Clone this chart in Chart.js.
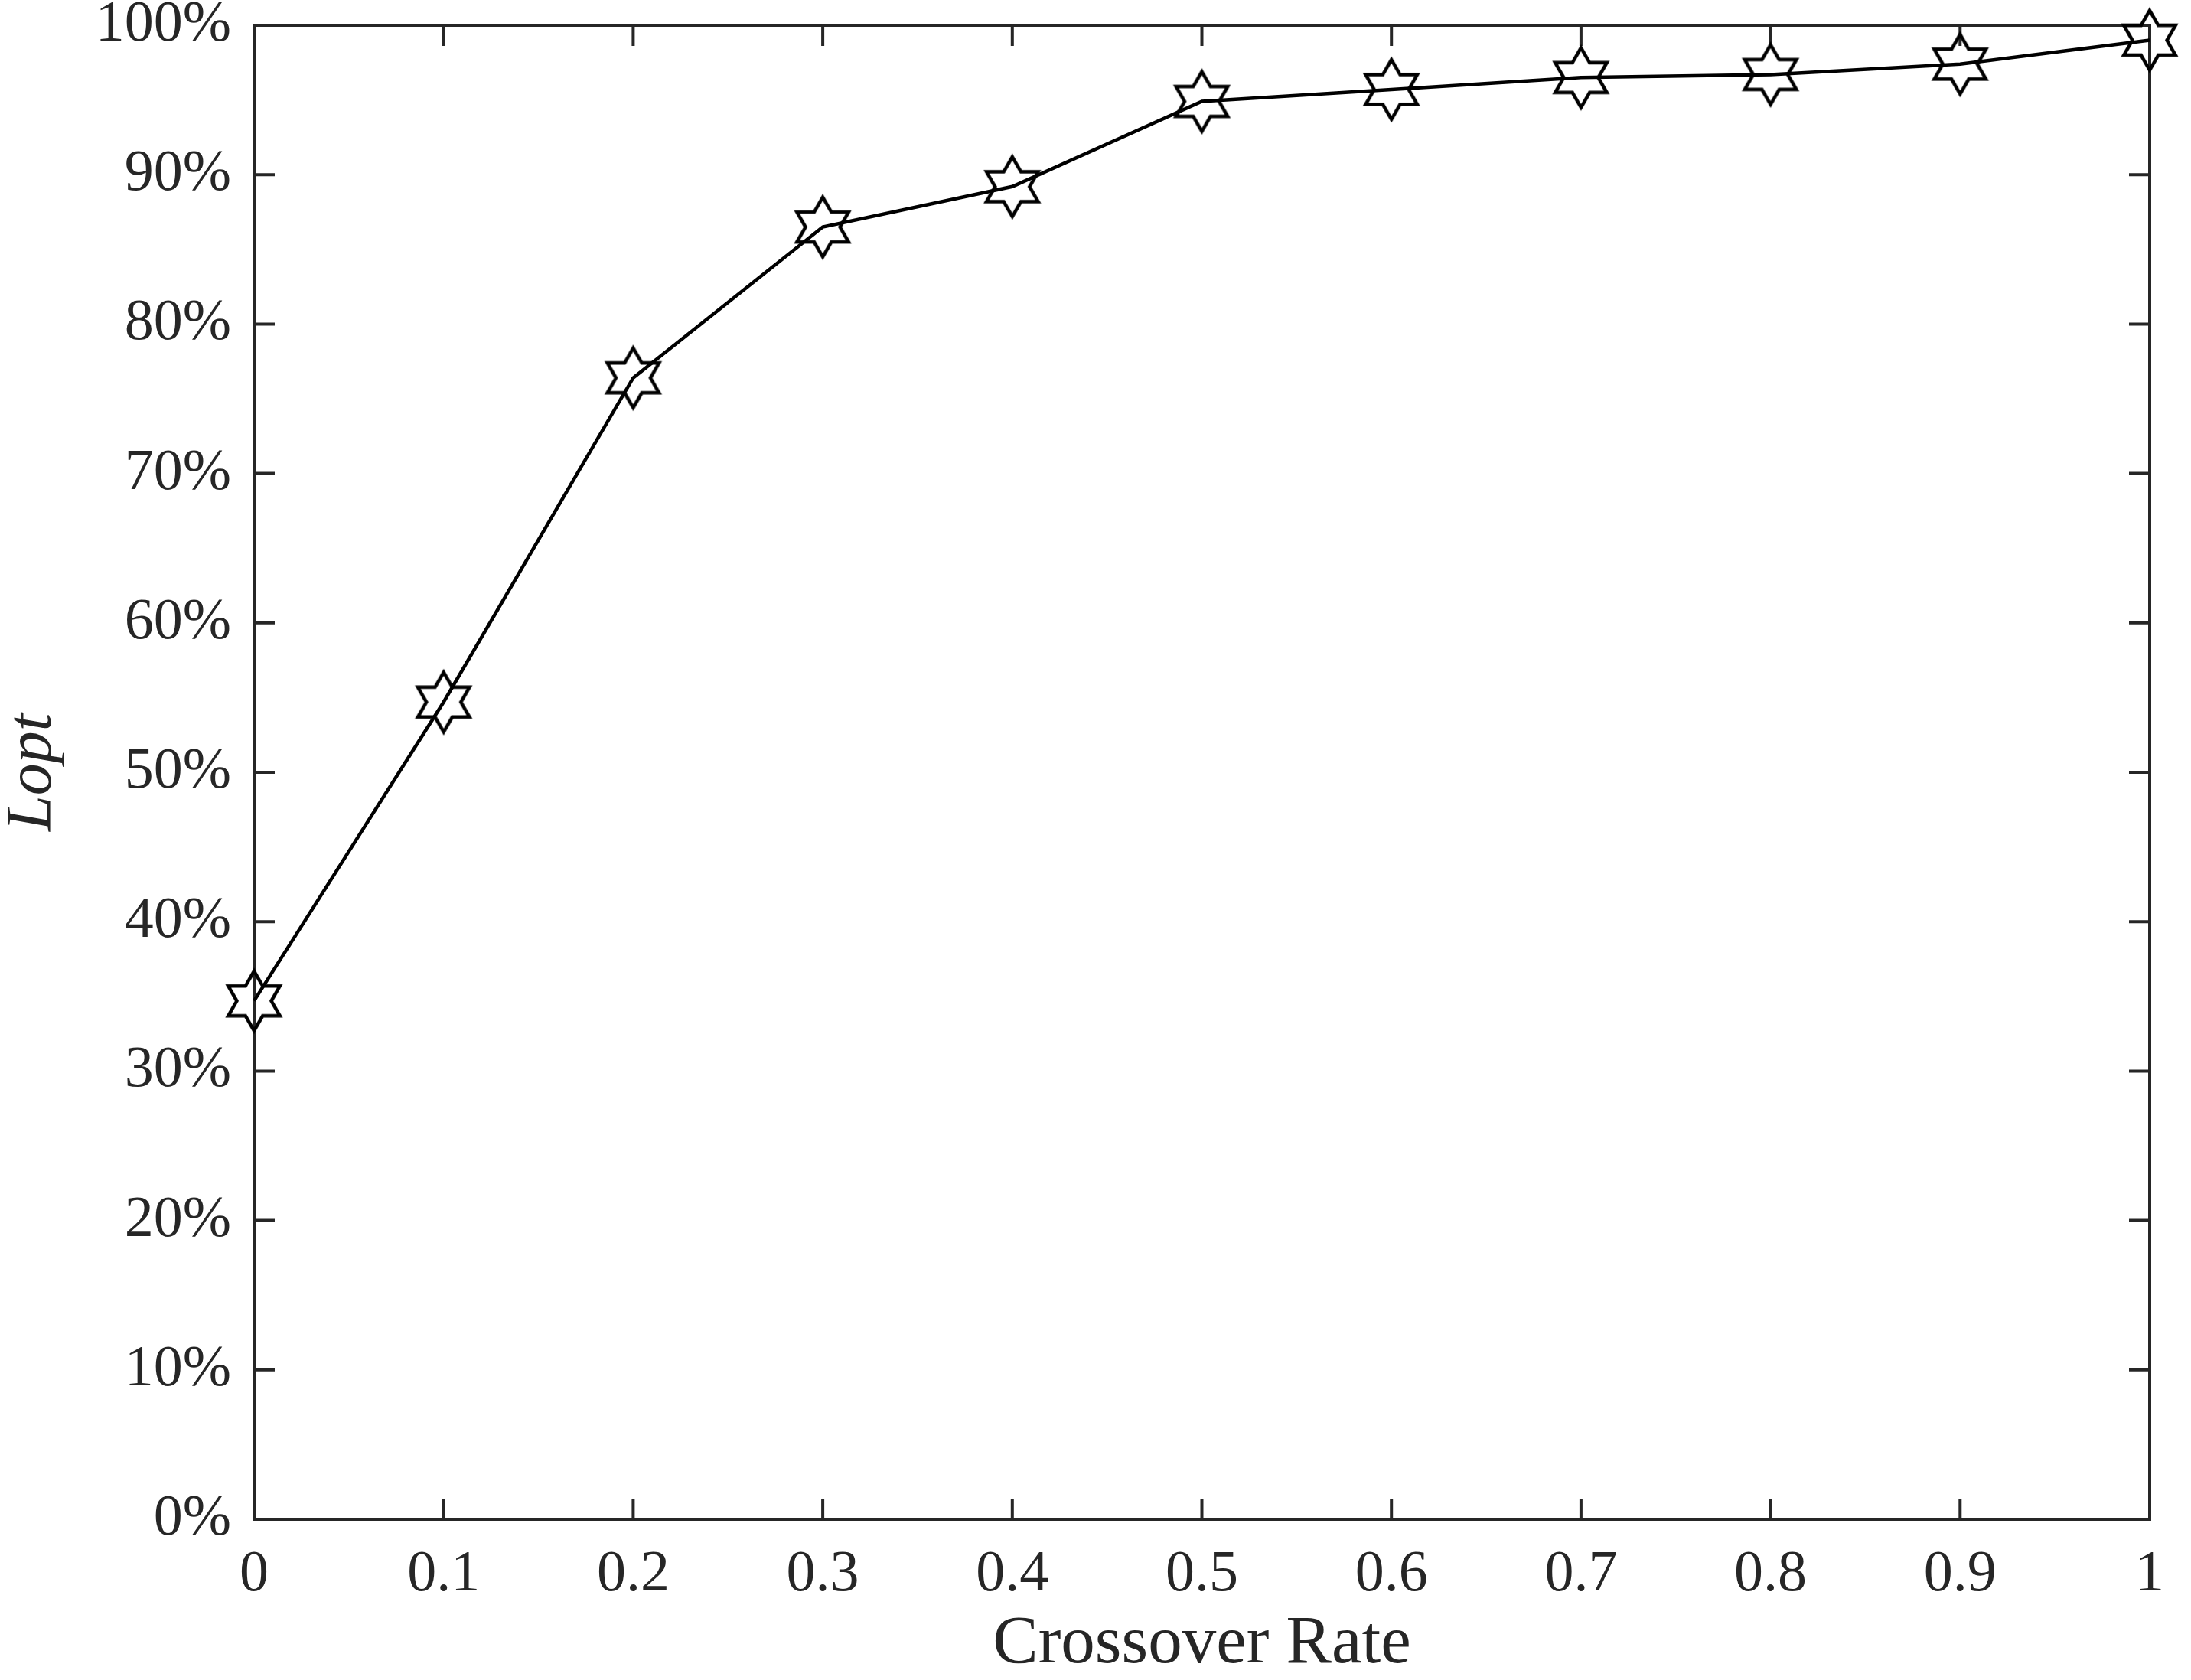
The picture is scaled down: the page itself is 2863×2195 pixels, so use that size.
<!doctype html>
<html>
<head>
<meta charset="UTF-8">
<title>Lopt vs Crossover Rate</title>
<script src="https://cdn.jsdelivr.net/npm/chart.js@4.4.0/dist/chart.umd.min.js"></script>
<style>
  html, body { margin: 0; padding: 0; background: #fff; }
</style>
</head>
<body>
<canvas id="chart" width="2863" height="2195"></canvas>
<script>
  // data
  const crossoverRate = [0, 0.1, 0.2, 0.3, 0.4, 0.5, 0.6, 0.7, 0.8, 0.9, 1]
  const lopt = [34.7, 54.7, 76.4, 86.5, 89.2, 94.9, 95.7, 96.5, 96.7, 97.4, 99.0]

  const xTicks = [0, 0.1, 0.2, 0.3, 0.4, 0.5, 0.6, 0.7, 0.8, 0.9, 1]
  const xTickLabels = ['0', '0.1', '0.2', '0.3', '0.4', '0.5', '0.6', '0.7', '0.8', '0.9', '1']
  const yTicks = [0, 10, 20, 30, 40, 50, 60, 70, 80, 90, 100]
  const yTickLabels = ['0%', '10%', '20%', '30%', '40%', '50%', '60%', '70%', '80%', '90%', '100%']

  const axisColor = '#262626'
  const serif = '"Liberation Serif", "Times New Roman", serif'

  // hexagram marker, outline only
  function makeHexagram(R, lw) {
    const size = Math.ceil(2 * R + 4 * lw)
    const c = document.createElement('canvas')
    c.width = size
    c.height = size
    const g = c.getContext('2d')
    const r = R / Math.sqrt(3)
    g.beginPath()
    for (let k = 0; k < 12; k++) {
      const a = (-90 + 30 * k) * Math.PI / 180
      const rad = k % 2 === 0 ? R : r
      const px = size / 2 + rad * Math.cos(a)
      const py = size / 2 + rad * Math.sin(a)
      if (k === 0) g.moveTo(px, py)
      else g.lineTo(px, py)
    }
    g.closePath()
    g.lineWidth = lw
    g.lineJoin = 'miter'
    g.strokeStyle = '#000'
    g.stroke()
    return c
  }
  const star = makeHexagram(39, 4.5)

  // box around the plot with inward ticks on all four sides
  const boxTicks = {
    id: 'boxTicks',
    beforeDatasetsDraw(chart) {
      const { ctx, chartArea: a, scales } = chart
      const len = 25
      ctx.save()
      ctx.strokeStyle = axisColor
      ctx.lineWidth = 4
      ctx.lineCap = 'square'
      ctx.strokeRect(a.left, a.top, a.right - a.left, a.bottom - a.top)
      ctx.beginPath()
      for (const v of xTicks) {
        const px = scales.x.getPixelForValue(v)
        ctx.moveTo(px, a.bottom); ctx.lineTo(px, a.bottom - len)
        ctx.moveTo(px, a.top); ctx.lineTo(px, a.top + len)
      }
      for (const v of yTicks) {
        const py = scales.y.getPixelForValue(v)
        ctx.moveTo(a.left, py); ctx.lineTo(a.left + len, py)
        ctx.moveTo(a.right, py); ctx.lineTo(a.right - len, py)
      }
      ctx.stroke()
      ctx.restore()
    }
  }

  const config = {
    type: 'line',
    data: {
      datasets: [{
        data: crossoverRate.map((x, i) => ({ x: x, y: lopt[i] })),
        borderColor: '#000',
        borderWidth: 4.5,
        tension: 0,
        fill: false,
        pointStyle: star,
        pointRadius: 40,
        pointHoverRadius: 40,
        clip: false
      }]
    },
    options: {
      responsive: false,
      animation: false,
      events: [],
      layout: {
        autoPadding: false,
        padding: { top: 33, right: 54, left: 0, bottom: 0 }
      },
      plugins: {
        legend: { display: false },
        tooltip: { enabled: false }
      },
      scales: {
        x: {
          type: 'linear',
          min: 0,
          max: 1,
          afterBuildTicks: s => { s.ticks = xTicks.map(v => ({ value: v })) },
          afterFit: s => { s.height = 210; s.paddingLeft = 0; s.paddingRight = 0 },
          grid: { display: false, drawTicks: false },
          border: { display: false },
          ticks: {
            autoSkip: false,
            maxRotation: 0,
            padding: 35,
            color: axisColor,
            font: { family: serif, size: 76, lineHeight: 1 },
            callback: (v, i) => xTickLabels[i]
          },
          title: {
            display: true,
            text: 'Crossover Rate',
            color: axisColor,
            font: { family: serif, size: 89, lineHeight: 1 },
            padding: { top: 0, bottom: 2 }
          }
        },
        y: {
          type: 'linear',
          min: 0,
          max: 100,
          afterBuildTicks: s => { s.ticks = yTicks.map(v => ({ value: v })) },
          afterFit: s => { s.width = 332; s.paddingTop = 0; s.paddingBottom = 0 },
          grid: { display: false, drawTicks: false },
          border: { display: false },
          ticks: {
            autoSkip: false,
            padding: 30,
            color: axisColor,
            font: { family: serif, size: 76, lineHeight: 1 },
            callback: (v, i) => yTickLabels[i]
          },
          title: {
            display: true,
            text: 'Lopt',
            color: axisColor,
            font: { family: serif, size: 84, style: 'italic', lineHeight: 1 },
            padding: { top: 2, bottom: 0 }
          }
        }
      }
    },
    plugins: [boxTicks]
  }

  new Chart(document.getElementById('chart'), config)
</script>
</body>
</html>
